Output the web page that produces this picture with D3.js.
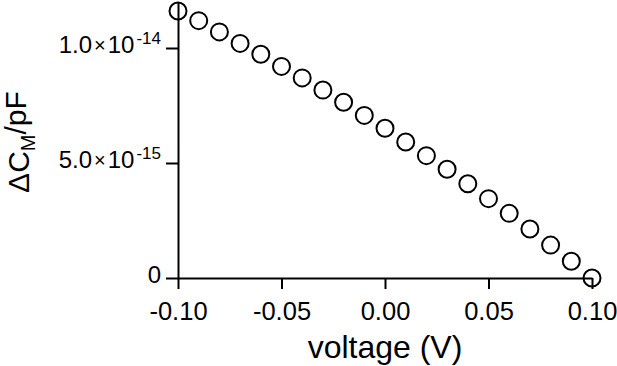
<!DOCTYPE html>
<html><head><meta charset="utf-8">
<script src="https://cdn.jsdelivr.net/npm/d3@7"></script>
<style>
html,body{margin:0;padding:0;background:#fff;}
svg{display:block;font-family:"Liberation Sans",Arial,sans-serif;}
</style></head>
<body>
<svg id="chart" width="617" height="366"></svg>
<script>
const voltage = [-0.10,-0.09,-0.08,-0.07,-0.06,-0.05,-0.04,-0.03,-0.02,-0.01,0.00,0.01,0.02,0.03,0.04,0.05,0.06,0.07,0.08,0.09,0.10];
const deltaCm = [1.161e-14,1.119e-14,1.070e-14,1.020e-14,0.973e-14,0.920e-14,0.870e-14,0.817e-14,0.764e-14,0.707e-14,0.651e-14,0.591e-14,0.532e-14,0.473e-14,0.410e-14,0.345e-14,0.281e-14,0.213e-14,0.143e-14,0.073e-14,0.0];
const xTicks = [-0.10,-0.05,0.00,0.05,0.10];
const xTickLabels = ["-0.10","-0.05","0.00","0.05","0.10"];
const yTicks = [0, 5e-15, 1e-14];
const yTickMantissa = ["0","5.0","1.0"];
const yTickExponent = [null,"-15","-14"];
const xTitle = "voltage (V)";

const svg = d3.select("#chart");
const x = d3.scaleLinear().domain([-0.10,0.10]).range([178,592]);
const y = d3.scaleLinear().domain([0,1.2e-14]).range([278,2]);

// X axis
const xAxis = svg.append("g").attr("transform","translate(0,"+y(0)+")")
  .call(d3.axisBottom(x).tickValues(xTicks).tickFormat((d,i)=>xTickLabels[i]).tickSize(11).tickSizeOuter(0).tickPadding(13));
xAxis.select(".domain").attr("stroke","#000").attr("stroke-width",2);
xAxis.selectAll(".tick line").attr("stroke","#000").attr("stroke-width",2);
xAxis.selectAll(".tick text").attr("font-size",25.5).attr("fill","#000")
  .attr("font-family","Liberation Sans, Arial, sans-serif");

// Y axis
const yAxis = svg.append("g").attr("transform","translate("+x(-0.10)+",0)")
  .call(d3.axisLeft(y).tickValues(yTicks).tickFormat("").tickSize(12).tickSizeOuter(0));
yAxis.select(".domain").attr("stroke","#000").attr("stroke-width",2);
yAxis.selectAll(".tick line").attr("stroke","#000").attr("stroke-width",2);
yAxis.selectAll(".tick").each(function(d,i){
  const t = d3.select(this).append("text")
    .attr("x",-17).attr("y",0).attr("dy","0.2em")
    .attr("text-anchor","end").attr("fill","#000")
    .attr("font-size",24).attr("font-family","Liberation Sans, Arial, sans-serif");
  t.append("tspan").text(yTickMantissa[i]);
  if (yTickExponent[i]) {
    t.append("tspan").attr("font-size",20).attr("dx",2).attr("dy",-1).text("\u00d7");
    t.append("tspan").attr("font-size",24).attr("dy",1).attr("dx",2).text("10");
    t.append("tspan").attr("font-size",17).attr("dx",2).attr("dy",-9).text(yTickExponent[i]);
  }
});

// Points
svg.append("g").selectAll("circle").data(voltage).join("circle")
  .attr("cx",(d)=>x(d)).attr("cy",(d,i)=>y(deltaCm[i]))
  .attr("r",8.5).attr("fill","none").attr("stroke","#000").attr("stroke-width",2);

// X title
svg.append("text").attr("x",385).attr("y",358).attr("text-anchor","middle")
  .attr("font-size",32).attr("fill","#000").text(xTitle);

// Y title
const yt = svg.append("text").attr("transform","translate(29,142) rotate(-90)")
  .attr("text-anchor","middle").attr("font-size",30).attr("fill","#000");
yt.append("tspan").text("\u0394C");
yt.append("tspan").attr("font-size",20).attr("dy","0.3em").text("M");
yt.append("tspan").attr("dy","-0.3em").text("/pF");
</script>
</body></html>
